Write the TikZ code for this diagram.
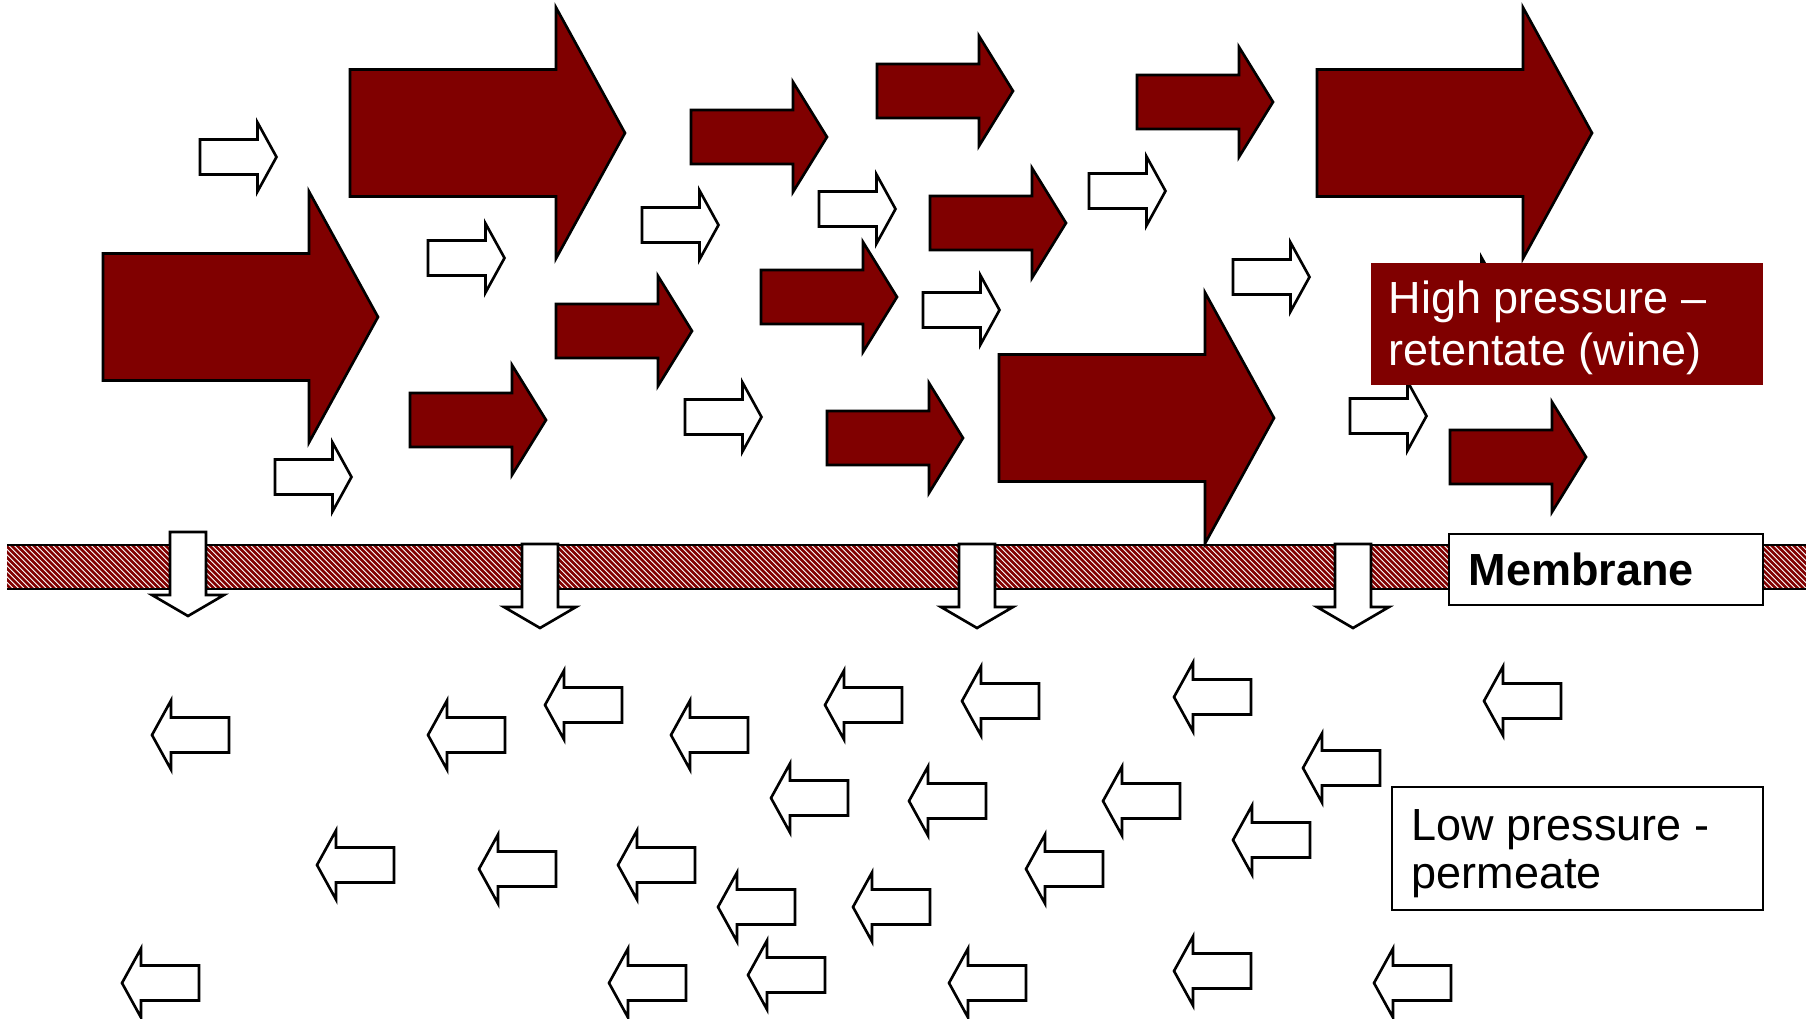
\documentclass[tikz,border=0pt]{standalone}
\usepackage{fontspec}
\setmainfont{Liberation Sans}
\definecolor{wine}{RGB}{128,0,0}
\tikzset{
  redarr/.style={fill=wine, draw=black, line width=0.75pt},
  whitearr/.style={fill=white, draw=black, line width=0.75pt},
  stripe/.style={draw=wine, line width=0.75pt},
  lbl/.style={anchor=base west, inner sep=0pt, font=\fontsize{12.8}{15}\selectfont},
  lblbox/.style={draw=black, line width=0.6pt, fill=white},
}
% big red arrow: body left x, centre y
\newcommand{\BigArr}[2]{\draw[redarr] (#1,#2) ++(0,-63.5) -- ++(206,0) -- ++(0,-62) -- ++(69,125.5) -- ++(-69,125.5) -- ++(0,-62) -- ++(-206,0) -- cycle;}
% medium red arrow
\newcommand{\MidArr}[2]{\draw[redarr] (#1,#2) ++(0,-27) -- ++(102,0) -- ++(0,-28) -- ++(34,55) -- ++(-34,55) -- ++(0,-28) -- ++(-102,0) -- cycle;}
% small white right arrow
\newcommand{\SmArr}[2]{\draw[whitearr] (#1,#2) ++(0,-17.5) -- ++(57.5,0) -- ++(0,-17) -- ++(19,34.5) -- ++(-19,34.5) -- ++(0,-17) -- ++(-57.5,0) -- cycle;}
% small white left arrow: tip x, centre y
\newcommand{\LArr}[2]{\draw[whitearr] (#1,#2) -- ++(19,-34.5) -- ++(0,17) -- ++(58,0) -- ++(0,35) -- ++(-58,0) -- ++(0,17) -- cycle;}
% down arrow: centre x, top y, tip y
\newcommand{\DArr}[3]{\draw[whitearr] (#1-18,#2) -- (#1+18,#2) -- (#1+18,#3-21) -- (#1+36,#3-21) -- (#1,#3) -- (#1-36,#3-21) -- (#1-18,#3-21) -- cycle;}
\begin{document}
\begin{tikzpicture}[x=0.01cm, y=-0.01cm]
\useasboundingbox (0,0) rectangle (1806,1018);
\fill[white] (0,0) rectangle (1806,1018);

% membrane
\fill[white] (7,545) rectangle (1806,589);
\begin{scope}
  \clip (7,545) rectangle (1806,589);
  \foreach \i in {-9,...,330} {\draw[stripe] (\i*5.5,545) -- ++(44,44);}
\end{scope}
\draw[black, line width=0.7pt] (7,545) -- (1806,545);
\draw[black, line width=0.7pt] (7,589) -- (1806,589);

% permeation arrows through membrane
\DArr{188}{532}{616}
\DArr{540}{544}{628}
\DArr{977}{544}{628}
\DArr{1353}{544}{628}

% big red arrows
\BigArr{103}{317}
\BigArr{350}{133}
\BigArr{1317}{133}
\BigArr{999}{418}

% medium red arrows
\MidArr{691}{137}
\MidArr{877}{91}
\MidArr{1137}{102}
\MidArr{930}{223}
\MidArr{761}{297}
\MidArr{556}{331}
\MidArr{410}{420}
\MidArr{827}{438}
\MidArr{1450}{457}

% small white right arrows
\SmArr{200}{157}
\SmArr{428}{258}
\SmArr{275}{477}
\SmArr{642}{225}
\SmArr{819}{209}
\SmArr{685}{417}
\SmArr{923}{310}
\SmArr{1089}{191}
\SmArr{1233}{277}
\SmArr{1350}{416}
\SmArr{1424}{292}

% small white left arrows (permeate)
\LArr{152}{735}
\LArr{428}{735}
\LArr{545}{705}
\LArr{671}{735}
\LArr{825}{705}
\LArr{962}{701}
\LArr{1174}{697}
\LArr{1484}{701}
\LArr{771}{798}
\LArr{909}{801}
\LArr{1103}{801}
\LArr{1303}{768}
\LArr{1233}{840}
\LArr{317}{865}
\LArr{479}{869}
\LArr{618}{865}
\LArr{718}{907}
\LArr{853}{907}
\LArr{1026}{869}
\LArr{122}{983}
\LArr{609}{983}
\LArr{748}{975}
\LArr{949}{983}
\LArr{1174}{971}
\LArr{1374}{983}

% labels
\fill[wine] (1371,263) rectangle (1763,385);
\node[lbl, text=white] (hp1) at (1388,313) {High pressure –};
\node[lbl, text=white] (hp2) at (1388,365) {retentate (wine)};

\draw[lblbox] (1449,534) rectangle (1763,605);
\node[lbl, font=\fontsize{12.8}{15}\selectfont\bfseries] (mem) at (1468,585) {Membrane};

\draw[lblbox] (1392,787) rectangle (1763,910);
\node[lbl] (lp1) at (1411,840) {Low pressure -};
\node[lbl] (lp2) at (1411,888) {permeate};
\end{tikzpicture}
\end{document}
